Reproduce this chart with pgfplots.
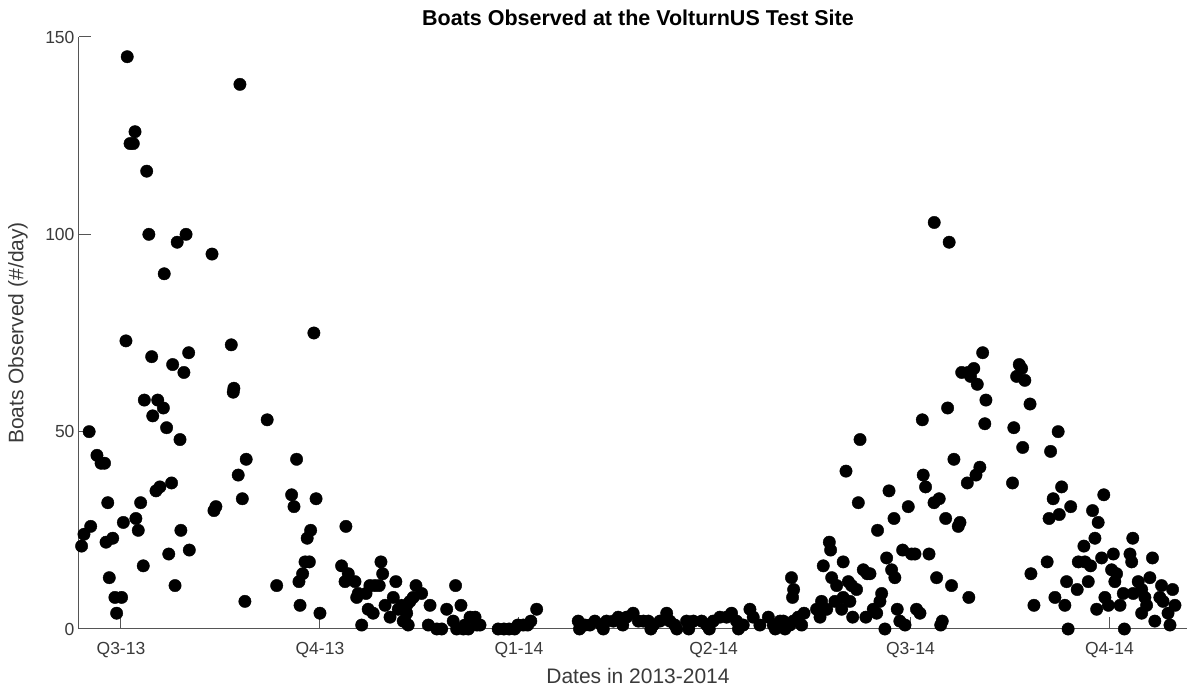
\documentclass[border=0pt]{standalone}
\usepackage{fontspec}
\setmainfont{Liberation Sans}
\usepackage{pgfplots}
\pgfplotsset{compat=1.18}
\definecolor{txtgray}{HTML}{3A3A3A}
\definecolor{axgray}{HTML}{555555}
\begin{document}
\begin{tikzpicture}[x=1pt,y=1pt]
\useasboundingbox (0,0) rectangle (1187,687);
\begin{axis}[
  at={(79pt,58pt)}, anchor=south west,
  scale only axis, width=1118pt, height=592pt,
  xmin=-19.4, xmax=497.5, ymin=0, ymax=150,
  axis lines*=left,
  axis line style={axgray, line width=1pt},
  every tick/.style={axgray, line width=1pt},
  clip=false,
  tick align=inside, major tick length=12pt,
  xtick={0,92,184,274,365,457},
  xticklabels={Q3-13,Q4-13,Q1-14,Q2-14,Q3-14,Q4-14},
  ytick={0,50,100,150},
  /pgf/number format/assume math mode=true,
  ticklabel style={font=\fontsize{17.5}{20}\selectfont, text=txtgray},
  xticklabel style={yshift=-10pt},
  yticklabel style={xshift=-1pt},
]
\addplot[only marks, mark=*, mark size=6.2pt, mark options={fill=black, draw=none}] coordinates {
(-18.2,21) (-17.1,24) (-14.7,50) (-14.0,26) (-11.1,44) (-9.2,42) (-7.6,42) (-6.9,22) (-6.1,32) (-5.4,13) (-3.8,23) (-2.8,8) (0.3,8) (-2.0,4)
(1.1,27) (2.3,73) (2.9,145) (4.2,123) (5.7,123) (6.5,126) (6.9,28) (8.0,25) (9.1,32) (10.3,16) (10.8,58) (11.9,116) (12.9,100) (14.2,69) (14.7,54) (16.2,35) (17.0,58) (18.0,36) (19.6,56) (20.0,90) (21.1,51) (22.1,19) (23.4,37) (23.9,67) (25.0,11) (26.0,98) (27.3,48) (27.7,25) (29.1,65) (30.1,100) (31.3,70) (31.6,20)
(42.1,95) (43.0,30) (43.9,31) (51.0,72) (51.9,60) (52.2,61) (54.2,39) (55.0,138) (56.1,33) (57.3,7) (57.9,43) (67.6,53) (72.0,11)
(78.9,34) (80.0,31) (81.2,43) (82.3,12) (82.8,6) (84.0,14) (85.1,17) (86.1,23) (87.1,17) (87.7,25) (89.2,75) (90.2,33) (92.0,4)
(102.0,16) (103.6,12) (104.0,26) (105.1,14) (108.2,12)
(109.0,8) (109.7,9) (111.3,1) (113.3,9) (114.3,5) (115.1,11) (116.6,4) (117.4,11) (119.4,11) (120.2,17) (121.0,14) (122.1,6) (124.4,3) (125.9,8) (127.1,12) (128.2,5) (129.8,6) (130.5,2) (131.3,2) (132.1,6) (132.1,4) (132.8,1) (133.6,7) (135.1,8) (136.4,11) (139.0,9) (142.1,1) (142.9,6) (146.0,0) (148.3,0) (150.6,5) (153.6,2) (154.7,11) (155.2,0) (157.2,6) (158.3,0) (159.0,1) (160.6,0) (161.4,3) (163.7,3) (164.5,1) (166.0,1)
(174.4,0) (177.0,0) (179.5,0) (182.0,0) (183.5,1) (186.0,1) (188.0,1) (189.5,2) (192.2,5)
(211.4,2) (212,0) (214.5,1) (216.8,1) (219.1,2) (222.2,1) (223,0) (224.5,2) (227.6,2) (229.9,3) (232,1) (233.8,3) (236.8,4) (239.2,2) (241.5,2) (243.8,2) (245,0) (246.1,1) (249.2,2) (252.3,4) (253.8,2) (256.1,1) (257,0) (261.5,2) (262.5,0) (264.6,2) (268.5,2) (270.8,1) (272,0) (273.8,2) (276.9,3) (280.0,3) (282.3,4) (284.6,2) (285.5,0) (287.7,1) (290.8,5) (292.3,3) (295.4,1) (299.3,3) (301.6,1) (302.5,0) (304.7,2) (307.8,1) (310.8,2) (313.1,3)
(310,13) (311,10) (310.5,8) (306.2,2) (307.0,0) (309.3,1) (314.7,1) (315.8,4) (321.6,5) (323.2,3) (323.9,7) (324.7,16) (326.3,5) (327.5,22) (328.1,20) (328.6,13) (330.1,7) (330.9,11) (333.2,5) (333.9,17) (333.9,8) (335.2,40) (336.3,12) (337.0,7) (337.8,11) (338.3,3) (340.1,10) (340.9,32) (341.7,48) (343.2,15) (344.4,3) (345.0,14) (346.3,14) (347.8,5) (349.4,4) (349.8,25) (350.9,7) (351.7,9) (353.2,0) (354.0,18) (355.1,35) (356.3,15) (357.4,28) (357.8,13) (358.9,5) (360.1,2) (361.4,20) (362.5,1) (364.0,31) (365.5,19) (367.1,19) (367.8,5) (369.4,4) (370.5,53) (370.9,39) (372.0,36) (373.6,19) (375.9,32) (376.0,103) (377.1,13) (378.3,33) (379.0,1) (379.7,2) (381.3,28) (382.2,56) (382.9,98) (384.0,11) (385.1,43) (387.1,26) (387.9,27) (388.7,65) (391.3,37) (391.7,65) (392.0,8) (392.8,64) (394.3,66) (395.3,39) (395.9,62) (397.1,41) (398.4,70) (399.4,52) (399.9,58)
(412.2,37) (412.8,51) (414.1,64) (415.3,67) (416.4,66) (416.9,46) (417.9,63) (420.3,57) (420.7,14) (422.1,6) (428.2,17) (429.1,28) (429.8,45) (431.0,33) (431.8,8) (433.3,50) (433.8,29) (434.9,36) (436.4,6) (437.2,12) (437.9,0) (439.1,31) (442.1,10) (442.6,17) (445.2,21) (445.7,17) (447.2,12) (448.3,16) (449.2,30) (450.3,23) (451.1,5) (451.8,27) (453.4,18) (454.4,34) (454.9,8) (456.5,6) (458.0,15) (458.8,19) (459.5,12) (460.3,14) (461.9,6) (463.4,9) (463.9,0) (466.5,19) (467.3,17) (467.8,23) (468.0,9) (470.3,12) (471.9,10) (471.9,4) (473.4,8) (474.2,6) (475.7,13) (476.9,18) (478.0,2) (480.3,8) (481.1,11) (481.8,7) (484.1,4) (485.0,1) (486.2,10) (487.3,6)
};
\end{axis}
\node[font=\bfseries\fontsize{21.5}{25}\selectfont, text=black] at (638,669) {Boats Observed at the VolturnUS Test Site};
\node[font=\fontsize{21}{25}\selectfont, text=txtgray, inner sep=0pt] at (638,11) {Dates in 2013-2014};
\node[font=\fontsize{21}{25}\selectfont, text=txtgray, rotate=90] at (18,354) {Boats Observed (\#/day)};
\end{tikzpicture}
\end{document}
